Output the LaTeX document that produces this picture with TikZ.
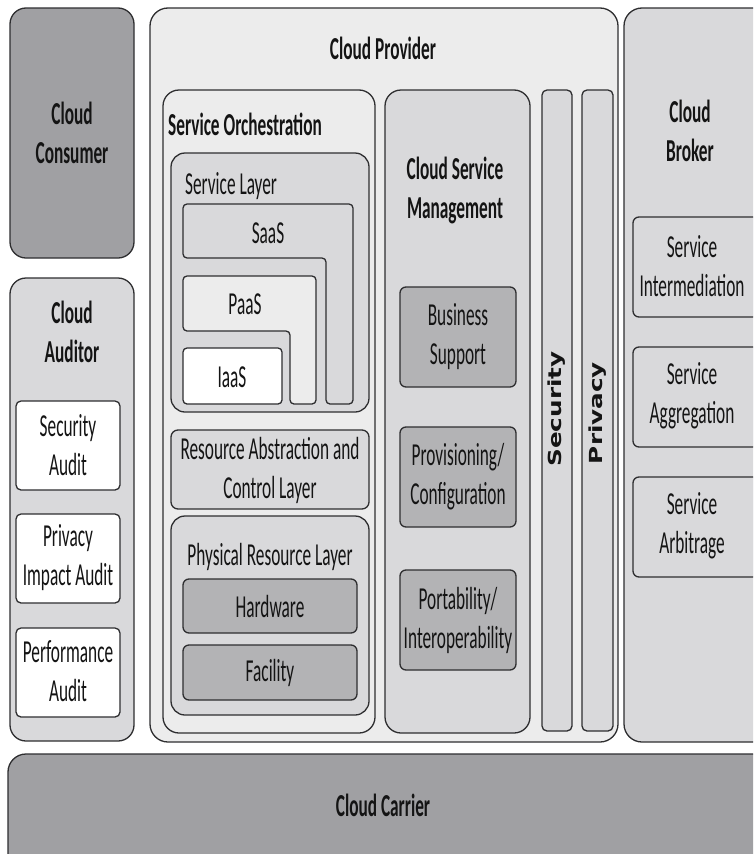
\documentclass[tikz,border=0pt]{standalone}
\usepackage{fontspec}
\setmainfont{Carlito}[FakeStretch=0.54]
\newfontfamily\barfont{DejaVu Sans}[FakeStretch=1.37]
\usetikzlibrary{positioning}

\definecolor{edge}{HTML}{2E2E30}
\definecolor{ink}{HTML}{141414}
\definecolor{gdark}{HTML}{A0A0A3}
\definecolor{gmid}{HTML}{B3B3B5}
\definecolor{glight}{HTML}{D9D9DB}
\definecolor{gpale}{HTML}{ECECEC}

\begin{document}
\begin{tikzpicture}[
      x=1pt, y=-1pt,
      box/.style = {draw=edge, line width=1.3pt, rounded corners=#1},
      box/.default = 6,
      lbl/.style = {text=ink, align=center, inner sep=0pt,
                    font=\fontsize{32}{39}\selectfont},
      ttl/.style = {lbl, font=\fontsize{32}{39}\selectfont\bfseries},
      bar/.style = {text=ink, inner sep=0pt, rotate=90,
                    font=\fontsize{18}{20}\selectfont\barfont\bfseries},
    ]
    \useasboundingbox (0,0) rectangle (753,854);
    \clip (0,0) rectangle (753,854);
    \fill[white] (0,0) rectangle (753,854);

    % consumer and auditor
    \draw[box=16, fill=gdark] (10,8) rectangle (134,258);
    \node[ttl] (consumer) at (72,133) {Cloud\\Consumer};
    \draw[box=16, fill=glight] (10,278) rectangle (134,741);
    \node[ttl] (auditor) at (72,332) {Cloud\\Auditor};
    \draw[box=5, fill=white] (16,401) rectangle (120,490);
    \node[lbl] (secaudit) at (68,445) {Security\\Audit};
    \draw[box=5, fill=white] (16,514) rectangle (120,603);
    \node[lbl] (privaudit) at (68,558) {Privacy\\Impact Audit};
    \draw[box=5, fill=white] (16,628) rectangle (120,717);
    \node[lbl] (perfaudit) at (68,671) {Performance\\Audit};

    % provider
    \draw[box=18, fill=gpale] (150,8) rectangle (618,742);
    \node[ttl] (provider) at (383,48) {Cloud Provider};

    \draw[box=16, fill=gpale] (163,90) rectangle (375,733);
    \node[ttl, anchor=west] (orch) at (168,124) {Service Orchestration};

    \draw[box=14, fill=glight] (171,153) rectangle (369,412);
    \node[lbl, anchor=west] (svclayer) at (185,186) {Service Layer};
    \draw[box=4, fill=glight] (183,204) -- (353,204) -- (353,404) -- (326,404)
      -- (326,258) -- (183,258) -- cycle;
    \node[lbl] (saas) at (268,233) {SaaS};
    \draw[box=4, fill=gpale] (183,276) -- (316,276) -- (316,404) -- (290,404)
      -- (290,331) -- (183,331) -- cycle;
    \node[lbl] (paas) at (245,304) {PaaS};
    \draw[box=4, fill=white] (183,348) rectangle (282,404);
    \node[lbl] (iaas) at (232,377) {IaaS};

    \draw[box=7, fill=glight] (171,430) rectangle (369,509);
    \node[lbl] (rac) at (270,470) {Resource Abstraction and\\Control Layer};
    \draw[box=14, fill=glight] (171,516) rectangle (369,715);
    \node[lbl] (physical) at (270,557) {Physical Resource Layer};
    \draw[box=6, fill=gmid] (183,579) rectangle (357,633);
    \node[lbl] (hardware) at (270,606) {Hardware};
    \draw[box=6, fill=gmid] (183,645) rectangle (357,700);
    \node[lbl] (facility) at (270,673) {Facility};

    \draw[box=16, fill=glight] (385,90) rectangle (530,733);
    \node[ttl] (csm) at (455,190) {Cloud Service\\Management};
    \draw[box=6, fill=gmid] (400,287) rectangle (516,387);
    \node[lbl] (business) at (458,337) {Business\\Support};
    \draw[box=6, fill=gmid] (400,427) rectangle (516,527);
    \node[lbl] (provisioning) at (458,477) {Provisioning/\\Configuration};
    \draw[box=6, fill=gmid] (400,570) rectangle (516,670);
    \node[lbl] (portability) at (458,620) {Portability/\\Interoperability};

    \draw[box=5, fill=glight] (542,90) rectangle (572,731);
    \node[bar] (security) at (557,409) {Security};
    \draw[box=5, fill=glight] (582,90) rectangle (613,731);
    \node[bar] (privacy) at (598,413) {Privacy};

    % broker
    \draw[box=18, fill=glight] (624,8) rectangle (790,742);
    \node[ttl] (broker) at (690,131) {Cloud\\Broker};
    \draw[box=6, fill=glight] (633,217) rectangle (790,317);
    \node[lbl] (intermed) at (692,266) {Service\\Intermediation};
    \draw[box=6, fill=glight] (633,347) rectangle (790,447);
    \node[lbl] (aggreg) at (692,396) {Service\\Aggregation};
    \draw[box=6, fill=glight] (633,477) rectangle (790,577);
    \node[lbl] (arbit) at (692,526) {Service\\Arbitrage};

    % carrier
    \draw[box=18, fill=gdark] (8,754) rectangle (790,890);
    \node[ttl] (carrier) at (383,805) {Cloud Carrier};
  \end{tikzpicture}
\end{document}
